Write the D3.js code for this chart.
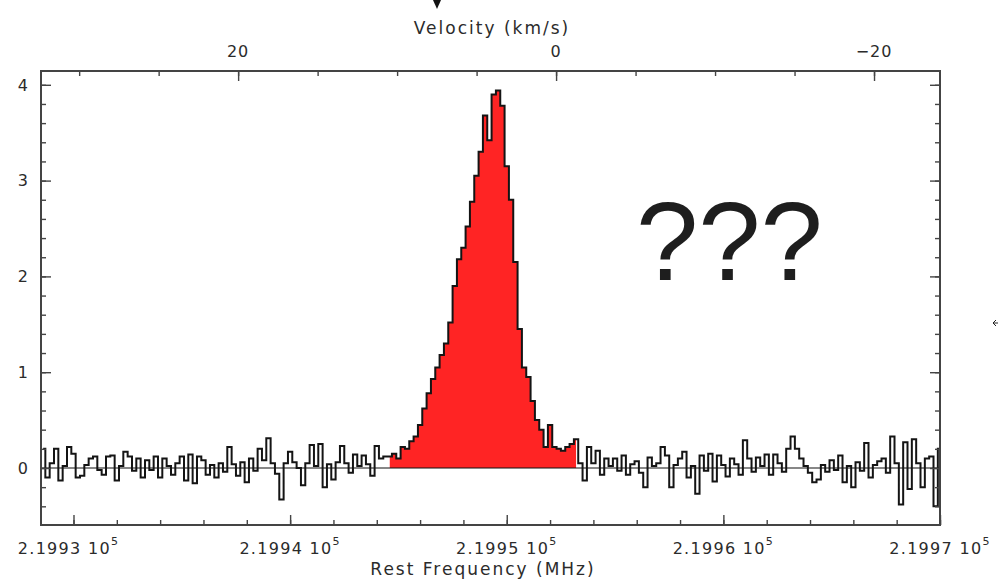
<!DOCTYPE html>
<html>
<head>
<meta charset="utf-8">
<script src="https://cdn.jsdelivr.net/npm/d3@7/dist/d3.min.js"></script>
<style>
  body { margin: 0; background: #fff; }
  svg { display: block; }
  text { font-family: "DejaVu Sans", sans-serif; fill: #2b2b2b; }
</style>
</head>
<body>
<script>
// spectrum: channel grid in MHz + intensities
const freqStart = 219928.6;
const chanWidth = 0.2;
const intensity = [
  0.20, -0.10, 0.05, 0.20, -0.13, 0.02, 0.22, 0.15, -0.10, -0.08,
  0.03, 0.10, 0.12, -0.02, -0.07, 0.12, 0.13, -0.13, 0.02, 0.17,
  0.12, -0.03, 0.10, -0.10, 0.08, -0.02, 0.12, -0.10, 0.10, 0.02,
  -0.07, 0.05, 0.12, -0.13, 0.14, -0.16, 0.12, 0.08, -0.07, 0.03,
  -0.10, 0.05, -0.04, 0.22, 0.04, -0.08, 0.06, -0.15, 0.10, -0.03,
  0.20, 0.08, 0.31, 0.05, -0.06, -0.33, 0.05, 0.17, 0.06, 0.00,
  -0.18, 0.05, 0.24, 0.02, 0.25, -0.20, 0.04, -0.12, 0.06, 0.23,
  0.05, -0.05, 0.14, 0.02, 0.13, 0.04, -0.08, 0.23, 0.10, 0.12,
  0.12, 0.15, 0.10, 0.22, 0.20, 0.28, 0.33, 0.45, 0.62, 0.78,
  0.93, 1.05, 1.18, 1.30, 1.52, 1.90, 2.18, 2.30, 2.52, 2.78,
  3.05, 3.30, 3.68, 3.42, 3.90, 3.94, 3.78, 3.15, 2.80, 2.15,
  1.45, 1.05, 0.95, 0.70, 0.50, 0.40, 0.22, 0.45, 0.22, 0.20,
  0.18, 0.22, 0.25, 0.30, 0.05, -0.13, 0.22, 0.05, 0.18, -0.07,
  0.10, 0.02, 0.10, -0.03, 0.13, -0.07, 0.04, 0.07, -0.05, -0.20,
  0.11, 0.02, 0.05, 0.22, 0.13, -0.20, 0.03, 0.10, 0.17, -0.10,
  0.02, -0.27, 0.13, -0.03, 0.15, -0.14, 0.13, 0.03, -0.09, 0.10,
  0.04, -0.07, 0.29, 0.10, -0.04, 0.11, 0.02, 0.14, -0.07, 0.14,
  0.05, -0.04, 0.20, 0.33, 0.20, 0.10, 0.02, -0.05, -0.15, -0.12,
  0.03, -0.04, 0.08, -0.02, 0.13, -0.15, 0.02, -0.20, 0.06, -0.03,
  0.26, -0.10, 0.03, 0.07, 0.10, -0.05, 0.33, 0.05, -0.38, 0.27,
  -0.22, 0.30, 0.05, -0.20, 0.10, 0.12, -0.40, 0.20
];
// channels of the line that get the red fill
const fillFrom = 80;
const fillTo = 123;

const freqTicks = [219930, 219940, 219950, 219960, 219970];
const freqLabels = ['2.1993', '2.1994', '2.1995', '2.1996', '2.1997'];
const velTicks = [20, 0, -20];
const yTicks = [0, 1, 2, 3, 4];

const width = 998;
const height = 581;
const box = {left: 41, right: 940, top: 71, bottom: 525};

const svg = d3.select('body')
    .append('svg')
    .attr('width', width)
    .attr('height', height);

const xF = d3.scaleLinear().domain([219928.5, 219970]).range([box.left, box.right]);
const xV = d3.scaleLinear().domain([32.4, -24.15]).range([box.left, box.right]);
const y = d3.scaleLinear().domain([-0.595, 4.144]).range([box.bottom, box.top]);

const spec = intensity.map((v, i) => ({f: freqStart + i * chanWidth, v: v}));

svg.append('clipPath').attr('id', 'clip')
    .append('rect')
    .attr('x', box.left).attr('y', box.top)
    .attr('width', box.right - box.left).attr('height', box.bottom - box.top);

const plot = svg.append('g').attr('clip-path', 'url(#clip)');

// red filled line
plot.append('path')
    .datum(spec.slice(fillFrom, fillTo + 1))
    .attr('fill', '#ff2424')
    .attr('d', d3.area().curve(d3.curveStep)
        .x(d => xF(d.f))
        .y0(y(0))
        .y1(d => y(d.v)));

// zero baseline
plot.append('line')
    .attr('x1', box.left).attr('x2', box.right)
    .attr('y1', y(0)).attr('y2', y(0))
    .attr('stroke', '#111').attr('stroke-width', 1.2);

plot.append('path')
    .datum(spec)
    .attr('fill', 'none')
    .attr('stroke', '#141414')
    .attr('stroke-width', 2)
    .attr('d', d3.line().curve(d3.curveStep)
        .x(d => xF(d.f))
        .y(d => y(d.v)));

// axes, ticks pointing inward
function ticks(axis, vals, size, tx, ty) {
    const g = svg.append('g')
        .attr('transform', 'translate(' + tx + ',' + ty + ')')
        .call(axis.tickValues(vals).tickSize(-size).tickFormat(''));
    g.select('.domain').remove();
    g.selectAll('line').attr('stroke', '#444').attr('stroke-width', 1.4);
    return g;
}

const yMinor = d3.range(-0.4, 4.1, 0.2).map(v => +v.toFixed(1));
ticks(d3.axisLeft(y), yMinor, 5, box.left, 0);
ticks(d3.axisLeft(y), yTicks, 10, box.left, 0);
ticks(d3.axisRight(y), yMinor, 5, box.right, 0);
ticks(d3.axisRight(y), yTicks, 10, box.right, 0);

ticks(d3.axisBottom(xF), d3.range(219930, 219971, 2), 5, 0, box.bottom);
ticks(d3.axisBottom(xF), freqTicks, 10, 0, box.bottom);

ticks(d3.axisTop(xV), d3.range(30, -25, -5), 5, 0, box.top);
ticks(d3.axisTop(xV), velTicks, 10, 0, box.top);

svg.append('rect')
    .attr('x', box.left).attr('y', box.top)
    .attr('width', box.right - box.left).attr('height', box.bottom - box.top)
    .attr('fill', 'none')
    .attr('stroke', '#444')
    .attr('stroke-width', 2);

// tick labels
svg.selectAll('.ylab')
    .data(yTicks)
    .enter().append('text')
    .attr('x', 28)
    .attr('y', d => y(d))
    .attr('dy', '0.36em')
    .attr('text-anchor', 'end')
    .style('font-size', '16px')
    .text(d => d);

svg.selectAll('.vlab')
    .data(velTicks)
    .enter().append('text')
    .attr('x', d => xV(d))
    .attr('y', 57)
    .attr('text-anchor', 'middle')
    .style('font-size', '16px')
    .style('letter-spacing', '1px')
    .text(d => d < 0 ? '\u2212' + Math.abs(d) : d);

const flab = svg.selectAll('.flab')
    .data(freqTicks)
    .enter().append('text')
    .attr('x', (d, i) => xF(d) + (i === 0 ? -5 : 0))
    .attr('y', 554)
    .attr('text-anchor', 'middle')
    .style('font-size', '16px')
    .style('letter-spacing', '1.3px');
flab.append('tspan').text((d, i) => freqLabels[i] + ' 10');
flab.append('tspan')
    .attr('dy', -9)
    .style('font-size', '11px')
    .text('5');

// axis titles
svg.append('text')
    .attr('x', 492).attr('y', 34)
    .attr('text-anchor', 'middle')
    .style('font-size', '17px')
    .style('letter-spacing', '2px')
    .text('Velocity (km/s)');

svg.append('text')
    .attr('x', 483).attr('y', 575)
    .attr('text-anchor', 'middle')
    .style('font-size', '17px')
    .style('letter-spacing', '2px')
    .text('Rest Frequency (MHz)');

svg.append('text')
    .attr('x', 636).attr('y', 280)
    .style('font-family', '"Liberation Sans", Arial, sans-serif')
    .style('font-size', '112px')
    .style('fill', '#1e1e1e')
    .text('???');

// small pointer marks at the edges of the slide
svg.append('path')
    .attr('d', 'M433,0 L441,0 L437,9 Z')
    .attr('fill', '#111');
svg.append('path')
    .attr('d', 'M998,323 L993,323 M996,320 L993,323 L996,326')
    .attr('stroke', '#222').attr('fill', 'none').attr('stroke-width', 1);
</script>
</body>
</html>
